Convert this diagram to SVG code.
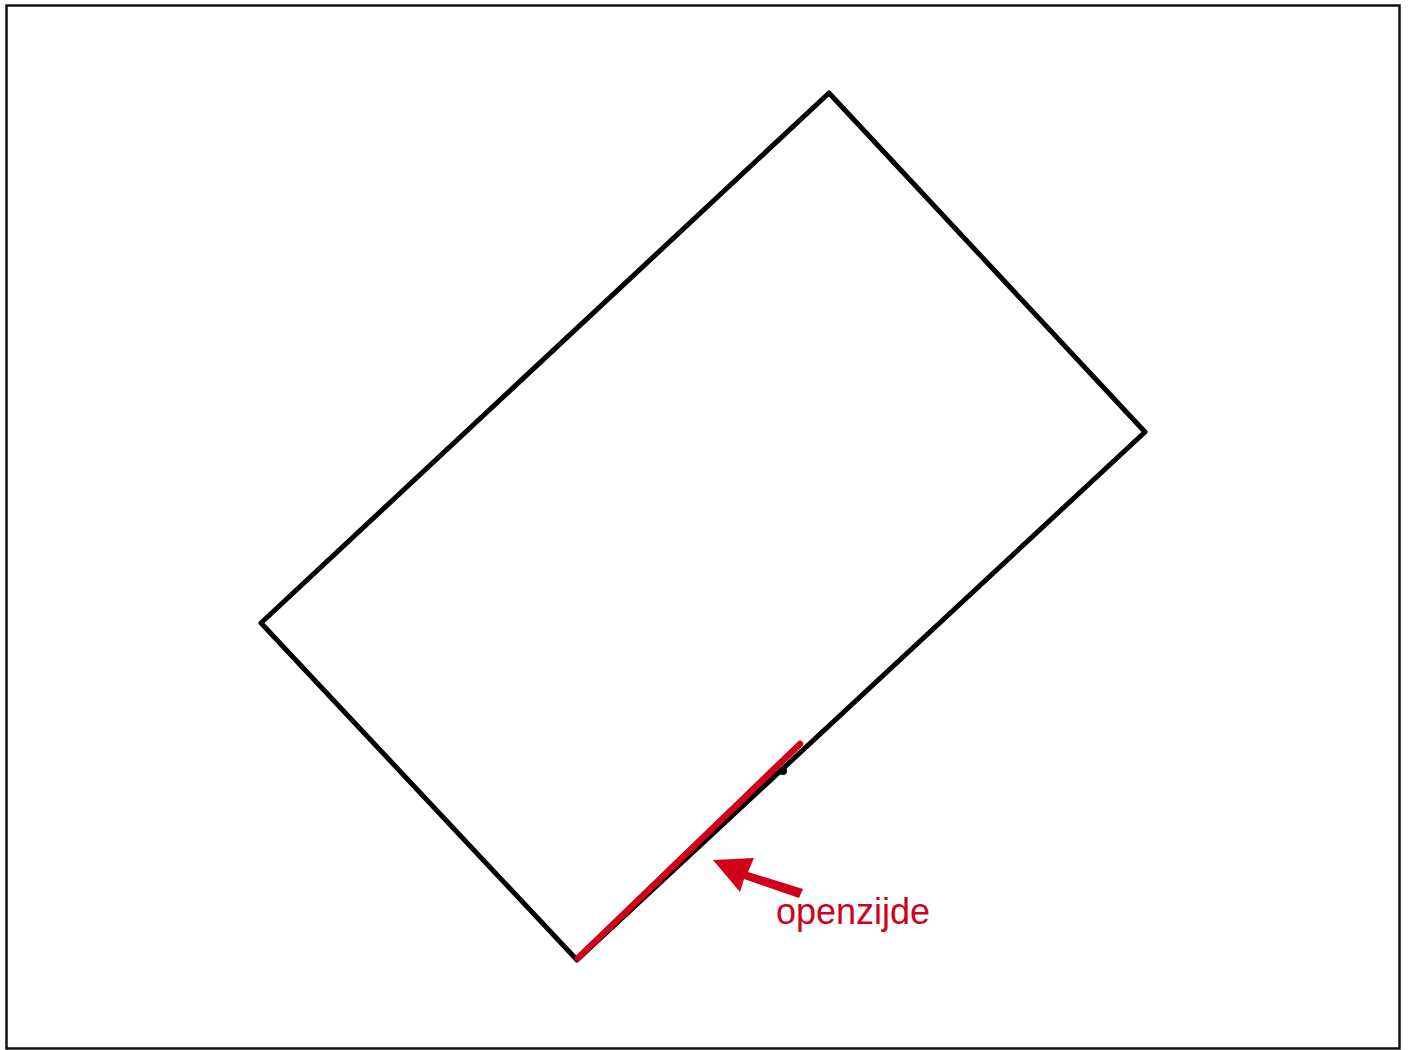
<svg xmlns="http://www.w3.org/2000/svg" width="1410" height="1050" viewBox="0 0 1410 1050">
<style>
.frame{fill:#fff;stroke:#111;stroke-width:2.5}
.shape{fill:none;stroke:#000;stroke-width:5;stroke-linejoin:round}
.red{stroke:#d0021b;fill:none;stroke-width:6.5;stroke-linecap:round}
.label{font-family:"Liberation Sans",Arial,sans-serif;font-size:36px;fill:#d0021b}
</style>
<rect class="frame" x="6.5" y="5.5" width="1393" height="1043"/>
<g id="building">
<polygon class="shape" points="829,93 1145,432 577,960 261,623"/>
<circle cx="783" cy="771" r="4" fill="#000"/>
</g>
<g id="connectors">
<line class="red" x1="578" y1="958" x2="800" y2="744"/>
<polygon fill="#d0021b" points="713,860 754,858 748,872 803,889 799,898 744,879 740,892"/>
</g>
<g id="label">
<text class="label" x="776" y="924">openzijde</text>
</g>
</svg>
